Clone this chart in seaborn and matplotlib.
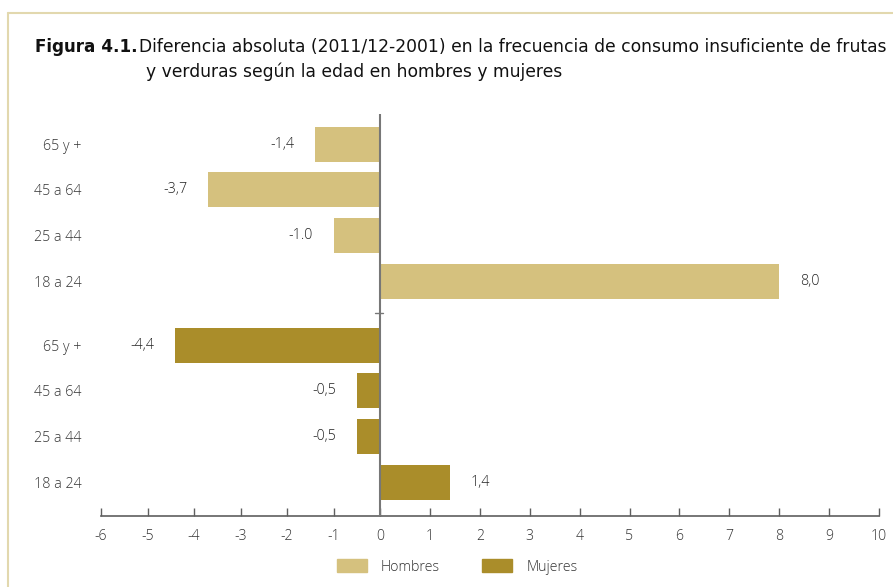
import numpy as np
import pandas as pd
import seaborn as sns
import matplotlib
matplotlib.use("Agg")
import matplotlib.pyplot as plt
from matplotlib.lines import Line2D

# Age groups, listed top to bottom within each sex
edades = ["65 y +", "45 a 64", "25 a 44", "18 a 24"]
sexos = ["Hombres", "Mujeres"]
# Absolute difference (percentage points) as printed next to each bar
etiquetas_hombres = ["-1,4", "-3,7", "-1.0", "8,0"]
etiquetas_mujeres = ["-4,4", "-0,5", "-0,5", "1,4"]
ticks_x = list(range(-6, 11))
colores = {"Hombres": "#D5C17E", "Mujeres": "#AA8D2A"}


def a_numero(txt):
    return float(txt.replace(",", "."))


# Long table: one row per bar; groups are stacked with a small gap between them
GAP = 1.4
filas = []
for g, (sexo, etiquetas) in enumerate(zip(sexos, [etiquetas_hombres, etiquetas_mujeres])):
    for i, (edad, et) in enumerate(zip(edades, etiquetas)):
        filas.append({"sexo": sexo, "edad": edad, "etiqueta": et,
                      "valor": a_numero(et),
                      "pos": g * (len(edades) - 1 + GAP) + i})
df = pd.DataFrame(filas)

sns.set_theme(style="white")
plt.rcParams["font.family"] = ["Open Sans", "DejaVu Sans"]

fig = plt.figure(figsize=(8.93, 5.87), dpi=100)
ax = fig.add_axes([101 / 893, 1 - 516 / 587, (879 - 101) / 893, (516 - 114) / 587])

# The negative half of the axis is slightly compressed
K = 46.5 / 49.9


def fwd(x):
    x = np.asarray(x, dtype=float)
    return np.where(x < 0, x * K, x)


def inv(x):
    x = np.asarray(x, dtype=float)
    return np.where(x < 0, x / K, x)


ax.set_xscale("function", functions=(fwd, inv))

sns.barplot(data=df, x="valor", y="pos", hue="sexo", orient="h",
            native_scale=True, dodge=False, palette=colores,
            width=0.77, linewidth=0, saturation=1, legend=True, ax=ax)

ax.set_xlim(ticks_x[0], ticks_x[-1])
ax.set_ylim(df["pos"].max() + 0.74, -0.66)
ax.set_xticks(ticks_x)
ax.set_xticklabels([str(t) for t in ticks_x])
ax.set_yticks(df["pos"])
ax.set_yticklabels(df["edad"])
ax.set_xlabel("")
ax.set_ylabel("")

axis_col = "#5f5f5f"
for s in ["top", "right", "left"]:
    ax.spines[s].set_visible(False)
ax.spines["bottom"].set_color(axis_col)
ax.spines["bottom"].set_linewidth(1.2)
ax.tick_params(axis="x", direction="in", length=6, width=1, color=axis_col,
               pad=9, labelsize=10.2, labelcolor="#333333", bottom=True)
ax.tick_params(axis="y", length=0, pad=14, labelsize=10.3, labelcolor="#333333")
for lab in ax.get_xticklabels() + ax.get_yticklabels():
    lab.set_fontweight("light")

# Zero line and the separator tick between the two groups
ax.axvline(0, color="#777777", lw=1.5, zorder=5)
sep = (df.loc[df.sexo == sexos[0], "pos"].max() + df.loc[df.sexo == sexos[1], "pos"].min()) / 2
ax.plot([-0.11, 0.07], [sep, sep], color="#777777", lw=1, zorder=5, clip_on=False)

# Value labels
for _, r in df.iterrows():
    off = 15 if r["valor"] > 0 else -15
    ax.annotate(r["etiqueta"], (r["valor"], r["pos"]), xytext=(off, 0),
                textcoords="offset points", va="center",
                ha="left" if off > 0 else "right",
                fontsize=10.3, color="#222222", fontweight="light")

# Legend below the axis
ax.legend_.remove()
handles = [plt.Rectangle((0, 0), 1, 1, color=colores[s]) for s in sexos]
leg = fig.legend(handles, sexos, loc="center", bbox_to_anchor=(0.512, 1 - 567 / 587),
                 ncol=2, frameon=False, handlelength=2.1, handleheight=1.0,
                 handletextpad=1.0, columnspacing=3.0, fontsize=10.2)
for t in leg.get_texts():
    t.set_color("#333333")
    t.set_fontweight("light")

# Title, each piece sized to its column width
renderer = fig.canvas.get_renderer()


def titulo(x0, x1, y, texto, **kw):
    t = fig.text(x0 / 893, 1 - y / 587, texto, fontsize=12, family=["DejaVu Sans"],
                 color="#111111", va="baseline", **kw)
    w = t.get_window_extent(renderer).width
    t.set_fontsize(12 * (x1 - x0) / w)
    return t


titulo(35, 137, 52, "Figura 4.1.", fontweight="bold")
tl = titulo(139, 882, 52,
            "Diferencia absoluta (2011/12-2001) en la frecuencia de consumo insuficiente de frutas")
t2 = fig.text(146 / 893, 1 - 77 / 587, "y verduras según la edad en hombres y mujeres",
              fontsize=tl.get_fontsize(), family=["DejaVu Sans"], color="#111111",
              va="baseline")

# Frame lines at top and left
fcol = "#E2D8AE"
fig.add_artist(Line2D([8 / 893, 1], [1 - 13 / 587] * 2, color=fcol, lw=1.5,
                      transform=fig.transFigure))
fig.add_artist(Line2D([8 / 893] * 2, [0, 1 - 13 / 587], color=fcol, lw=1.5,
                      transform=fig.transFigure))

fig.savefig("out.png", dpi=100)
